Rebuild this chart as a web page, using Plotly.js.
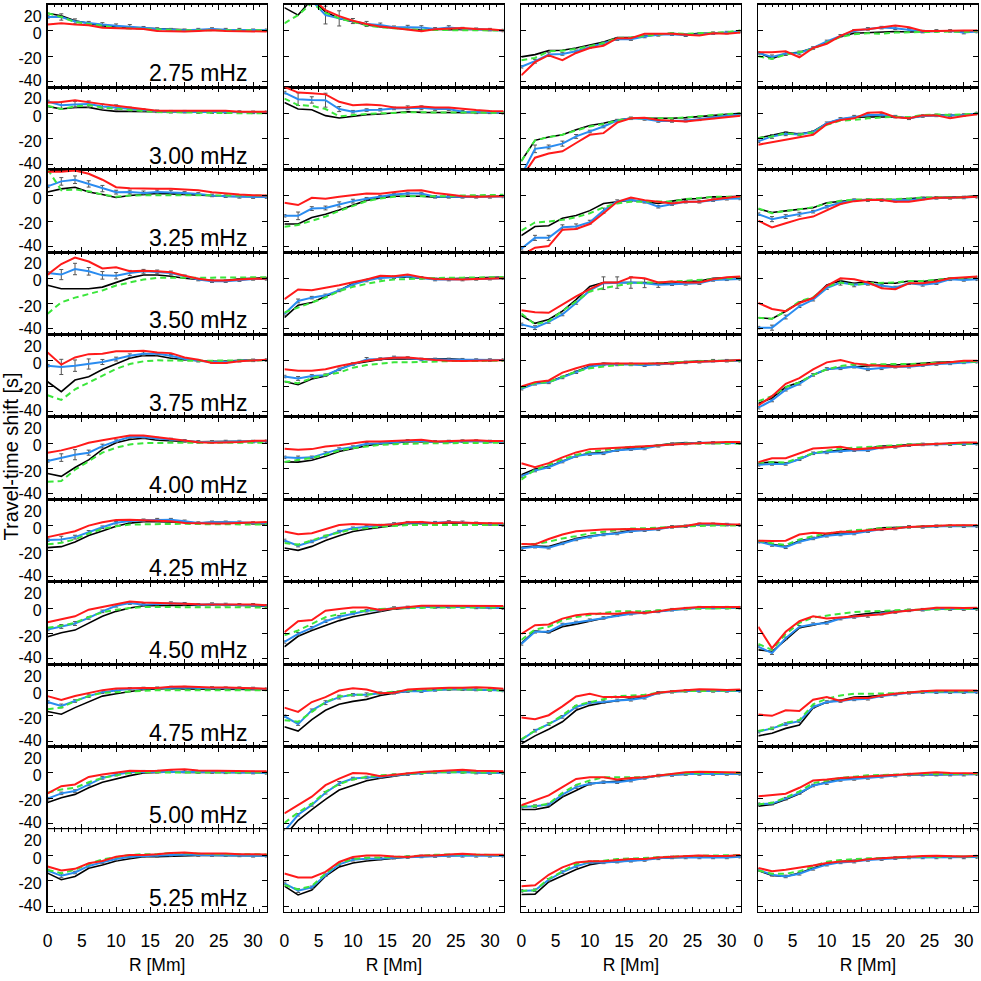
<!DOCTYPE html>
<html><head><meta charset="utf-8">
<script src="https://cdn.plot.ly/plotly-3.0.1.min.js"></script>
<style>html,body{margin:0;padding:0;background:#fff}#chart{width:981px;height:981px}</style>
</head><body><div id="chart"></div>
<script>
const R = [0,2,4,6,8,10,12,14,16,18,20,22,24,26,28,30,32];
const freqLabels = ["2.75 mHz","3.00 mHz","3.25 mHz","3.50 mHz","3.75 mHz","4.00 mHz","4.25 mHz","4.50 mHz","4.75 mHz","5.00 mHz","5.25 mHz"];
const yTickVals = [20,0,-20,-40];
const yTickText = ["20","0","-20","-40"];
const yLabelVals = [11.5,-2,-22,-39.3];
const xTickVals = [0,5,10,15,20,25,30];

// ---------- column 1 ----------
const red1 = [
 [5,6,5,4.5,2.5,2,2,1.5,0,-0.5,-0.5,0,0.5,0,0,0,-0.5],
 [8.6,9,10.4,8.6,7.3,6,4.7,3.4,2,2,2,2,2,2,1.3,1.3,1.3],
 [19,19,20,17.4,12.7,6.8,6,5.5,5.5,5.5,5,4.4,2.9,1.8,1,0.5,0.3],
 [2.9,11.2,16.4,13.2,7.8,8.6,5.5,6,5.5,4.7,2,-0.3,-1.8,-1.8,-1,-0.3,-0.3],
 [6.5,-3.1,2.6,5.2,5.5,7.5,7.5,7.8,6.5,6,2.6,0.8,-1.8,-1.8,-0.5,0,0.8],
 [-7.5,-5.7,-3.1,0.3,2.3,4.4,6,6,4.7,3.4,2.3,0.8,0.3,0.5,1,1.8,2],
 [-9.1,-6.5,-4.4,0,2.6,4.4,4.7,4.2,3.6,3.4,2,1.6,1.6,1.6,2,2.6,2.9],
 [-11.2,-8.6,-6.5,-1.3,0.8,3.4,5.2,4.4,3.9,3.9,3.4,3.1,3.1,3.1,3.1,2.9,2.3],
 [-4.4,-7.5,-4.4,-1.8,0.3,1.6,2,2,2,2.9,3.1,2.6,2.3,2.3,2.3,1.8,1.3],
 [-16.1,-10.4,-9.1,-3.1,-1.3,0,1.8,1.6,1.8,2.6,2.9,2,1.8,1.8,1.6,1.6,1.3],
 [-8.8,-11.9,-10.6,-6.2,-4.4,-1,0.3,0.3,1,2,2.3,1.6,1.6,1.6,1,1,0.8]
];
const black1 = [
 [14,12,8,6,4,3,2.5,2,1.5,1,0.5,0.5,1,0.5,0.5,0.5,0],
 [5.5,3.4,4.7,4.7,2.6,1.6,1.6,1.3,1.3,1.3,1.3,1.3,1.3,1.3,1,1,1],
 [3,5.5,6.8,3,1,-1.3,0.3,1,1.8,1.5,1,0.3,0.3,-0.3,-0.5,-0.5,-0.5],
 [-5.5,-8.3,-8.3,-8.3,-7,-3.1,0.3,2.6,2.6,1.6,0,-1,-1.8,-1.8,-0.5,0,0.5],
 [-16.6,-24.4,-15.3,-12.7,-7,-2.3,2,4.2,3.9,2,0.8,0,-0.5,-0.5,0.3,0.8,0.8],
 [-24,-26.2,-19.2,-13.2,-4.9,0.3,2.9,3.9,2.3,2,1.3,1,1.3,1.3,1.3,1.3,1.5],
 [-17.4,-16.6,-13,-7.8,-4.2,-0.5,2,3.1,3.1,3.1,2.6,2,2.6,2.6,2,1.6,1.3],
 [-22.6,-19.5,-17.4,-11.7,-6.5,-2.6,0,1.8,1.8,1.8,2,2.3,2.8,2.6,2.3,1.8,1.3],
 [-16.6,-18.7,-13.5,-9.1,-4.4,-2.6,-1,0.8,1.3,1.6,1.3,1.3,1.3,1.3,1,0.8,0.8],
 [-23.4,-19.5,-16.9,-11.7,-7.3,-4.4,-2.1,0,0.5,0.8,0.5,0.5,0.5,0.8,0.5,0.3,0.3],
 [-14,-19.2,-16.6,-10.1,-7.5,-4.4,-2.6,-1,-1,-0.5,0,0,0,0,0,-0.3,-0.3]
];
const blue1 = [
 [11,11,7.5,6,5,4,3.5,2.5,1.5,1,0.5,1,1.5,1,1,0.5,0.5],
 [9.4,6.5,7,7.3,5.5,4.7,3.4,2.6,1.6,1.3,1.3,1,1,1,1,0.8,0.8],
 [7.5,11.4,12.7,9.4,5.7,2.9,3,2.3,3,2.9,2.3,1.5,0.3,-0.3,-0.8,-1,-1],
 [4.2,2.9,7.3,5.5,2.3,2,4.2,5.5,5,4.2,1.6,-1,-2.3,-2.3,-1.5,-0.5,-0.5],
 [-3.9,-4.9,-3.9,-2.6,-1,1.3,3.9,5.5,5.5,3.9,1.3,0,-1,-1,0,0.3,0.5],
 [-14,-11.4,-9.1,-7.5,-2.3,1.6,4.9,4.9,3.6,2.9,1.8,1,1,1.3,1.3,1.3,1.5],
 [-11.4,-10.9,-9.1,-4.9,-1.3,2.3,3.6,4.2,4.7,4.7,3.4,2,2.6,2.6,2.6,2,2],
 [-16.9,-14.5,-12.2,-7.8,-2.6,1.8,3.9,2.6,3.4,3.9,3.4,2.6,3.1,2.8,2.6,2.6,1.8],
 [-9.1,-12.2,-8.3,-4.4,-1.3,0.3,1.3,1.6,1.8,2.3,2.3,2,2,1.8,1.8,1.6,1],
 [-20.3,-16.1,-14.3,-9.1,-3.9,-1.3,0.5,1,1,1.3,1.3,0.8,0.8,0.5,0.5,0.3,0],
 [-11.9,-16.1,-13.5,-8.3,-5.5,-2.9,-1,-0.5,-0.3,0.5,0.8,0.3,0.3,0.3,0,-0.3,-0.3]
];
const green1 = [
 [14,11,7,5.5,3.5,2.5,2,1.5,1,0.5,0.5,0.5,0.5,0.5,0.5,0.5,0.5],
 [6,3.4,5.5,6.5,4.5,3.4,2.5,1.8,1,0.8,0.5,0.5,0.3,0.3,0,0,0],
 [21,4.4,5,3.6,1,-0.8,0.3,0.5,0.8,0.5,0.5,0.3,0.3,0.3,0.3,0.3,0.3],
 [-28,-19,-15.3,-12.7,-9.6,-5.7,-3.1,-1,0.3,0.5,0.5,0.5,0.5,0.6,0.7,0.8,0.8],
 [-27.3,-31,-22.6,-17.4,-12.2,-6.5,-2.6,-0.5,0.3,0,0,0,0,0,0,0,0.3],
 [-30.4,-29.9,-21,-14,-7.5,-3.6,-1,0,0.3,0.3,0.3,0.3,0.3,0.3,0.3,0.3,0.3],
 [-14.8,-13.5,-10.9,-6.2,-2.6,-0.5,0.8,1,1.5,1.5,1.5,1.2,1,1,0.8,0.8,0.8],
 [-15.6,-14,-11.7,-7,-3.4,-1.3,0,0.8,0.8,0.8,0.8,0.8,0.8,0.8,0.8,0.8,0.5],
 [-14.8,-13.5,-8.3,-4.4,-1.8,-1.3,-0.5,0.3,0.3,0.3,0.3,0.3,0.3,0.3,0.3,0.3,0.3],
 [-15.6,-13,-11.7,-7.3,-3.9,-1.8,0,0.5,0.5,0.5,0.3,0.3,0.3,0.3,0.3,0.3,0.3],
 [-11.4,-14,-11.4,-6.8,-3.1,-1.5,0.3,1,1,2,1.6,1.2,1,1,0.8,0.8,0.8]
];
const err1 = [
 [1,2.5,2,1.5,1.5,1.5,1.5,1,1,1,1,1,1,1,1,1,1],
 [1,2.5,2.5,2.5,2,2,1.5,1,1,1,1,1,1,1,1,1,1],
 [1,3,3,2.5,2.5,1.5,1.5,1.5,1.5,1.5,1,1,1,1,1,1,1],
 [1,4,4.5,3,3,2.5,2,1.5,1.5,1.5,1,1,1,1,1,1,1],
 [1,6,4.5,4,2,1.5,1.5,1.5,1,1,1,1,1,1,1,1,1],
 [1,3,4,2,1.5,1,1,1,1,1,1,1,1,1,1,1,1],
 [1,2.5,1.5,1,1,1,1,1,1,1,1,1,1,1,1,1,1],
 [1,1.5,1.5,1,1,1,1,1,1,1,1,1,1,1,1,1,1],
 [1,1.5,1,1,1,1,1,1,1,1,1,1,1,1,1,1,1],
 [1,1,1,1,1,1,1,1,1,1,1,1,1,1,1,1,1],
 [1,1.5,1,1,1,1,1,1,1,1,1,1,1,1,1,1,1]
];

// ---------- column 2 ----------
const red2 = [
 [30,30,26,16.4,11.7,8,5.5,3.4,2.3,0.8,-0.3,1.3,2,2.3,1.6,1.3,0.3],
 [21,16.4,15.8,15,9.1,6.5,7,6.5,4.7,4.7,5.5,4.7,4.7,3.4,2.6,1.8,1.6],
 [-5.5,-7.3,-1.6,-2.3,-0.8,0.3,1.8,1.6,2.9,4.2,4.4,2.3,1,-0.3,-0.8,-0.8,-0.3],
 [-16.6,-8.8,-9.4,-7.5,-5.5,-3.1,-1,2,1.6,2.9,0.8,-0.5,-1,-1,-0.5,-0.5,0],
 [-6.8,-8,-8,-6.8,-4.2,-2.1,0,1.3,2.3,2.6,1.3,0.5,0,-0.3,0,0,0.3],
 [-4.4,-5.2,-4.7,-2.6,-1.6,0,1.3,1.3,1.8,2.6,2.6,1.3,1.6,1.8,2.3,1.8,1.8],
 [-4.7,-6.8,-6,-2.6,0.5,1.3,1,0.5,1,2.6,2.9,1.8,2.6,2.6,2.1,1.8,1.8],
 [-19,-10.4,-9.4,-2.1,-0.8,0.5,0.5,-1.6,-0.3,1,1.8,1.8,1.8,1.8,1.6,1.6,1.6],
 [-13.5,-16.9,-9.1,-5.2,0,1.8,0.8,-2.1,-1.8,0.8,1.3,1.8,2.1,2.1,2.6,2.1,1.3],
 [-32,-25.2,-18.7,-9.6,-4.4,0,-0.5,-2.6,-1.3,0,0.8,1.3,2.1,2.6,1.8,1.6,1.3],
 [-14.3,-17.4,-17.4,-13,-5.2,-1.3,0,0,-0.8,-1.3,0,0,0.8,1.3,0.8,0.5,0.5]
];
const black2 = [
 [18.4,12.5,25,15,9.9,7.3,4.7,3.4,2.3,1.3,0.8,1.3,1,1.3,1.3,0.8,0.3],
 [8.6,3.4,2.9,-1.8,-3.6,-2.3,-1,-0.5,0.3,1.3,0.8,0.8,0.8,0.8,0.8,0.5,0.5],
 [-22.3,-22.3,-17.1,-14.5,-11.2,-7.5,-3.6,-1.6,-0.3,-0.3,-0.3,-1,-0.8,-0.8,-0.8,-0.8,-0.3],
 [-31,-21.3,-19.2,-14.5,-9.6,-4.2,-1,0.8,0.8,0.8,0,-0.5,-0.5,0,0.3,0.5,1],
 [-16.4,-19,-14.5,-12,-6.8,-2.6,-0.8,1,1.6,1.3,1.3,1.3,1.6,1,0.8,0.8,0.5],
 [-14.8,-15,-13.5,-10.4,-6.5,-4.2,-2.1,-0.5,0,1.3,1.3,1,1,1.6,1.8,1.3,1],
 [-17.7,-19.5,-16.4,-11.7,-8,-4.7,-2.9,-1.3,0.5,1.8,1.8,1.8,2.3,2.1,1.6,1.3,0.5],
 [-30.6,-22.3,-17.7,-13.8,-9.9,-6.8,-4.7,-2.6,-0.8,0,1,0.5,1,1,0.5,0.5,0],
 [-28.6,-32,-22.9,-15.6,-10.9,-8.6,-7,-3.9,-2.1,-0.5,0,0.8,1,1,0.8,0.5,0],
 [-50,-37.4,-29,-20.8,-13.5,-9.6,-6.2,-4.2,-2.3,-1,0,0.5,0.8,0.8,0.3,0,0],
 [-24.2,-31.2,-27.3,-16.4,-9.1,-6,-4.4,-3.4,-2.1,-1.3,-0.8,-0.5,0,0.3,0.3,0,0]
];
const blue2 = [
 [26,28,24,12.5,9.9,7.8,5.5,4.7,2.9,2.9,2.6,1.6,2.6,1.8,1.3,1,0.3],
 [16.4,11.2,10.6,10.4,3.4,1.3,2.6,2.9,3.9,4.4,4.4,3.4,3.4,1.3,0.8,0.8,0.5],
 [-15.8,-15.8,-10.1,-9.6,-6.8,-4.2,-2.3,-0.8,1,1.8,1.8,-0.8,-0.8,-0.8,-0.8,-0.8,-0.5],
 [-28.3,-17.9,-15.3,-13.5,-9.6,-4.9,-1.8,0.3,0.8,1.6,0.3,-1,-1,-1,-0.5,-0.3,0],
 [-12.5,-14,-12,-11.4,-6.8,-2.6,1,1.3,2.6,2.1,1,1,1,0.8,0.5,0.5,0.5],
 [-11.2,-11.7,-11.2,-7.8,-4.7,-3.1,-0.5,0,0.5,1.8,1.8,1,1.3,1.6,1.6,1.3,1],
 [-11.7,-15.8,-12.5,-8.6,-4.7,-2.1,-0.8,0,1.3,2.3,2.3,2.3,2.9,2.6,1.8,1.3,0.5],
 [-26.8,-20.3,-15.6,-10.4,-6.8,-4.2,-2.1,-1.6,0,0.5,1,1,1,1,0.5,0.5,0],
 [-20.3,-26.5,-15.6,-9.6,-5.2,-3.4,-3.4,-2.1,-1.8,-0.5,-0.5,0.5,1,1,0.8,0.5,0],
 [-46,-33,-25.2,-15.6,-8.3,-4.4,-3.6,-3.1,-1.8,-1,0,0.5,0.8,0.8,0.3,0,0],
 [-22,-27.8,-25.2,-15.6,-7,-3.4,-2.6,-2.6,-1.8,-1.3,-0.8,-0.5,-0.3,-0.3,-0.3,-0.3,-0.3]
];
const green2 = [
 [6,12.5,22,14.3,9.9,7.3,4.4,2.9,2,1.3,0.8,0.8,0.8,0.8,0.8,0.5,0.3],
 [11.7,6.5,6,3.4,-2.3,-1.3,-0.5,0,0.5,0.8,0.8,0.8,0.8,0.8,0.8,0.5,0.5],
 [-24.4,-23,-19.7,-16.4,-11.9,-8,-4.2,-2.1,-0.8,-0.3,-0.3,-0.3,-0.3,0.3,0.3,0.3,0.8],
 [-27,-23.1,-19.7,-15.3,-10.1,-6.8,-4.4,-2.3,-1,-0.5,0,0,0.5,0.5,0.5,0.8,1],
 [-16.4,-17.7,-13.8,-11.2,-9.4,-5.5,-3.4,-2.1,-1.3,-1.3,-0.8,-0.3,-0.3,-0.3,-0.3,-0.3,0],
 [-14.8,-13.5,-11.7,-9.1,-5.7,-3.9,-2.6,-1.3,-0.8,-0.5,0,0,0,0,0,0,0.3],
 [-13.8,-15,-11.7,-8,-5.5,-2.9,-2.1,-0.8,-0.3,0.5,0.5,0.5,0.5,0.5,0.5,0.5,0.5],
 [-21.6,-17.7,-12.5,-7.3,-4.7,-2.9,-2.1,-0.8,-0.3,0,0.5,0.5,0.5,0.5,0.5,0.5,0.5],
 [-23.4,-24.7,-16.9,-9.1,-4.7,-3.4,-3.4,-1.8,-0.8,0,0,0.5,1,1,0.8,0.5,0],
 [-39.5,-31.2,-24.4,-14.8,-8.8,-5.2,-3.1,-1.8,-1.3,-0.5,0,0.5,0.5,0.5,0.3,0.3,0.3],
 [-23.4,-26.8,-24.2,-14.3,-6,-2.9,-1.8,-1.8,-1.3,-0.8,0,0.5,0.8,0.8,0.5,0.3,0.3]
];
const err2 = [
 [1,1,1,7,6,2,2,1.5,1,1.5,1.5,1,1.5,1,1,1,1],
 [1,5,2.5,5.5,2,1,1,1,1,1.5,1.5,1,1,1,1,1,1],
 [1,3,1.5,1.5,2,1.5,1,1,1,1,1,1,1,1,1,1,1],
 [1,1.5,1,1,1,1,1,1,1,1,1,1,1,1,1,1,1],
 [1,1.5,1,1,1,1,1.5,1,1,1,1,1,1,1,1,1,1],
 [1,1.5,1,1,1,1,1,1,1,1,1,1,1,1,1,1,1],
 [1,1,1,1,1,1,1,1,1,1,1,1,1,1,1,1,1],
 [1,1,1,1,1,1,1,1,1,1,1,1,1,1,1,1,1],
 [1,1,1,1.5,1.5,1,1.5,1,1,1,1,1,1,1,1,1,1],
 [1,1,1,1,1.5,1,1,1,1,1,1,1,1,1,1,1,1],
 [1,1.5,1,1,1,1,1,1,1,1,1,1,1,1,1,1,1]
];

// ---------- column 3 ----------
const red3 = [
 [-35,-24.7,-19.2,-23.1,-17.4,-13.5,-11.7,-5.7,-5.7,-2.3,-2.3,-2.3,-3.1,-3.6,-1.8,-2.3,-1.3],
 [-51,-35,-31.7,-29.9,-23.4,-16.9,-15.6,-7.3,-3.9,-3.4,-5.2,-5.7,-6.5,-5.2,-3.9,-2.6,-1.8],
 [-47,-41,-39.7,-26.8,-26.2,-22.3,-13.8,-4.7,-1.3,-3.4,-4.7,-6,-4.7,-4.7,-2.9,-1.6,-0.3],
 [-25.2,-26.8,-27.3,-20.8,-14.3,-8.6,-3.4,-3.4,0.8,0,-3.4,-2.6,-3.4,-3.4,-0.8,0.8,1.3],
 [-20.3,-16.9,-15.6,-9.4,-6,-2.9,-2.1,-2.1,-2.1,-2.1,-2.6,-2.1,-1.3,-1,-0.3,0,0.5],
 [-15.8,-19,-15.8,-11.2,-7.3,-4.7,-4.2,-3.6,-3.4,-2.9,-1.8,-1,-0.3,0.3,0.5,1,1],
 [-14.5,-14.8,-10.6,-7,-4.4,-3.6,-3.1,-2.9,-2.6,-2.9,-2.3,-1,-0.3,1.6,1.6,1,0.8],
 [-20.5,-13.5,-13,-8.3,-5.7,-4.4,-4.4,-4.4,-3.4,-3.9,-2.6,-1,0,0.8,0.8,0.8,0.8],
 [-21.3,-22.6,-19.5,-12.5,-4.7,-2.6,-5.2,-5.2,-5.2,-4.4,-1.8,-0.5,0.5,1,0.8,0.5,0.8],
 [-25.5,-21.6,-17.7,-11.2,-4.7,-3.4,-3.4,-5.2,-3.9,-3.4,-2.1,-0.8,0.5,1,0.5,0.5,0.3],
 [-24.4,-23.6,-15.3,-9.4,-5.5,-4.7,-4.7,-3.6,-2.9,-2.9,-1.6,-1,-0.5,0,-0.5,-0.5,0.3]
];
const black3 = [
 [-20.5,-18.7,-15.6,-15.3,-13.5,-10.9,-8.8,-5.2,-5.2,-3.9,-2.9,-1.8,-2.9,-1.8,-1.8,-1.3,0],
 [-37.7,-21.3,-18.7,-16.9,-13,-9.6,-7.8,-5.2,-3.9,-3.9,-4.4,-3.9,-3.4,-2.6,-1.6,-0.8,0],
 [-31.4,-24.2,-23.6,-17.7,-15.6,-11.7,-6,-4.7,-3.4,-4.7,-6,-4.2,-2.6,-2.1,-0.8,-0.8,-0.3],
 [-29.4,-35.6,-32.5,-26,-16.9,-6.5,-3.4,-3.4,-3.4,-3.4,-4.4,-3.9,-2.6,-2.1,0,0.5,0.8],
 [-21,-17.7,-16.9,-13,-8.6,-4.2,-2.1,-2.6,-2.9,-2.9,-2.1,-1.3,-0.8,-0.3,0,0,0.3],
 [-24.9,-20.5,-18.4,-14.5,-10.1,-8,-7.5,-5.5,-4.2,-3.4,-1.6,-0.3,0.3,0.3,0.3,0.3,0],
 [-17.1,-16.1,-16.6,-13.5,-10.1,-8.3,-6.8,-5.7,-3.6,-3.1,-2.3,-1,-0.3,1,1,0.8,0.3],
 [-27.8,-17.9,-19.5,-14.8,-12.7,-10.4,-8.3,-5.7,-4.4,-3.6,-2.6,-1.3,-0.5,0.3,0.3,0.3,0.3],
 [-42,-35.8,-30.6,-24.7,-15.6,-11.7,-9.6,-7.8,-6.5,-5.2,-1.8,-0.8,-0.3,-0.3,-0.3,-0.3,-0.3],
 [-28.8,-28.8,-26.8,-19,-13.8,-8.6,-7.3,-6.5,-5.5,-3.9,-2.1,-1.3,-0.8,-0.8,-0.8,-0.8,-0.8],
 [-30.9,-30.6,-21,-15.8,-11.2,-7.3,-5.5,-4.9,-4.2,-3.4,-2.1,-1.6,-1,-1,-1,-1,-0.5]
];
const blue3 = [
 [-28.3,-23.9,-18.7,-18.2,-16.1,-12.7,-9.6,-6.5,-6.5,-4.4,-3.1,-2.6,-3.4,-2.6,-1.8,-1.3,-0.5],
 [-49,-28,-26.5,-23.9,-18.2,-14.3,-10.4,-5.7,-3.9,-4.4,-6,-6,-5.7,-4.7,-3.1,-1.6,-0.8],
 [-41.8,-33.2,-33.2,-24.9,-24.2,-20.8,-11.7,-4.2,-3.4,-4.7,-8.6,-6.5,-4.7,-4.7,-3.4,-2.3,-2.1],
 [-36.4,-39,-34.5,-28.6,-19.5,-9.6,-3.9,-3.4,-3.4,-3.9,-5.2,-4.7,-4.4,-3.9,-1.3,-0.8,-0.5],
 [-22.1,-18.2,-17.1,-13.2,-9.1,-4.7,-2.9,-2.9,-2.9,-3.6,-2.6,-2.1,-1.3,-0.8,0,0,0],
 [-26.2,-21.6,-19,-14.5,-10.1,-8.6,-8,-5.5,-4.7,-4.2,-2.1,-0.8,-0.3,0.3,0.3,0.3,0],
 [-17.9,-16.6,-17.4,-14,-10.9,-8.8,-7,-6.2,-4.4,-3.6,-2.9,-1,-0.5,1,1,0.8,0.3],
 [-28.3,-18.7,-18.7,-13,-11.4,-9.6,-7.8,-5.7,-4.4,-3.6,-2.6,-1.3,-0.5,0.3,0.3,0.3,0.3],
 [-39,-31.7,-26.5,-20.8,-13,-9.6,-9.1,-7.8,-7.3,-5.7,-1.8,-1,-0.3,-0.3,-0.3,-0.3,-0.3],
 [-26.8,-26.2,-24.9,-17.1,-11.2,-8.6,-7.3,-7.3,-6,-3.9,-2.1,-1.6,-0.8,-0.8,-0.8,-0.8,-0.8],
 [-28,-27.5,-19.2,-13.2,-8.6,-5.5,-5.5,-4.9,-4.2,-3.6,-2.3,-1.6,-1.6,-1.6,-1.6,-1.6,-1]
];
const green3 = [
 [-23.1,-21.3,-16.1,-15.6,-14.3,-11.7,-9.6,-5.7,-5.2,-3.9,-2.9,-1.8,-2.3,-1.8,-1.3,-1,0.3],
 [-37.7,-21.3,-18.7,-16.9,-13.5,-10.4,-8.3,-5.7,-3.9,-3.9,-4.4,-3.9,-3.1,-2.1,-1.3,-0.5,0],
 [-27.5,-21,-20.3,-19,-16.9,-13.8,-9.1,-6,-4.7,-4.7,-4.9,-4.4,-2.6,-1.8,-0.8,-0.8,-0.8],
 [-27.8,-36.4,-33.8,-26,-17.7,-10.4,-7.8,-6,-3.9,-3.4,-3.4,-2.6,-1.8,-1.3,-0.5,0,0],
 [-21.3,-17.7,-16.9,-13,-8.6,-6,-4.7,-3.4,-2.9,-2.6,-2.1,-1.3,-0.8,-0.5,0,0,0],
 [-28.8,-21,-17.1,-12.7,-9.4,-6.8,-5.5,-4.2,-2.9,-2.9,-1.6,-0.8,-0.3,-0.3,-0.3,-0.3,-0.3],
 [-14.5,-14.5,-12.7,-10.1,-8.3,-6.2,-4.9,-3.6,-2.3,-2.1,-1.8,-1,-0.5,0,0,0,0],
 [-25.2,-16.9,-14.8,-9.6,-7,-5.2,-3.9,-2.6,-2.6,-2.6,-1.8,-1,-0.5,-0.5,-0.3,-0.3,0],
 [-38.4,-31.7,-26.5,-19.5,-11.7,-9.1,-6.5,-4.4,-3.9,-3.4,-1.8,-0.8,-0.5,-0.3,0,0,0],
 [-26.2,-26.2,-24.2,-15.8,-9.4,-6,-3.4,-3.4,-2.9,-3.4,-2.1,-0.8,-0.3,0,0,0,0],
 [-28,-27.5,-18.4,-12.5,-6.8,-4.7,-4.2,-2.9,-2.3,-2.1,-1.6,-1,-0.5,-0.3,-0.3,0,0.3]
];
const err3 = [
 [1,1.5,1.5,1,1,1,1,1,1,1,1,1,1,1,1,1,1],
 [1,3,1.5,2,1.5,1,1,1,1,1,1,1,1,1,1,1,1],
 [1,2,2,2,2,1.5,2,1,1,1,1,1,1,1,1,1,1],
 [1,1.5,1,1,1,1,5,4.5,4.5,3.5,2,1,1,1,1,1,1],
 [1,1,1,1,1,1,1,1,1,1,1,1,1,1,1,1,1],
 [1,1,1,1,1,1,1,1,1,1,1,1,1,1,1,1,1],
 [1,1,1,1,1,1,1,1,1,1,1,1,1,1,1,1,1],
 [1,1,1,1,1,1,1,1,1,1,1,1,1,1,1,1,1],
 [1,1,1,1,1,1,1,1,1,1,1,1,1,1,1,1,1],
 [1,1,1,1,1,1,1,1,1,1,1,1,1,1,1,1,1],
 [1,1,1,1,1,1,1,1,1,1,1,1,1,1,1,1,1]
];

// ---------- column 4 ----------
const red4 = [
 [-16.9,-16.9,-16.1,-20.8,-13.5,-10.1,-3.9,0.8,1.3,2.9,4.2,2.9,0,0,0.3,0.3,0.3],
 [-24.7,-22.9,-20.8,-18.7,-16.9,-8.6,-5.2,-3.9,0.5,0.8,-3.1,-3.9,-1.6,-1.6,-3.9,-2.1,-0.8],
 [-19.7,-24.9,-21.6,-18.4,-16.4,-11.7,-6.5,-4.2,-3.4,-3.4,-4.7,-4.7,-2.9,-1.6,-1.6,-1.3,-0.8],
 [-19.5,-24.2,-26,-19.5,-15.6,-6,0,-0.8,-3.4,-7.8,-8.6,-3.9,-3.9,-2.6,0,0.5,1.3],
 [-35.3,-28,-18.2,-13.8,-6.8,-1.3,0.5,-2.1,-3.4,-3.9,-4.7,-4.2,-2.9,-2.1,-1.3,0,0],
 [-15,-11.9,-11.9,-8,-4.2,-3.6,-2.9,-4.9,-4.2,-3.4,-2.9,-1.6,-1,-0.8,-0.3,0.5,0.5],
 [-11.9,-12.2,-11.9,-7,-5.7,-6.2,-4.9,-4.9,-3.6,-2.9,-2.3,-1,-0.5,-0.3,0.3,0.3,0.3],
 [-14.8,-31.7,-18.7,-10.4,-6.5,-8.3,-7.5,-6.5,-5.7,-4.9,-3.1,-1.8,-0.5,0.3,0.3,0,0.3],
 [-19,-20,-15.6,-16.1,-7.3,-5.2,-8.3,-6,-6,-3.9,-2.6,-1.3,-0.5,0,0,0,0],
 [-18.4,-17.7,-16.4,-11.7,-6,-5.2,-3.9,-3.4,-2.9,-2.1,-1.6,-0.8,-0.3,0.5,0,-0.3,-0.3],
 [-9.9,-12.5,-11.4,-9.9,-8,-6,-4.9,-4.7,-3.1,-2.3,-1.6,-1,-0.5,-0.3,-0.8,-0.8,-0.3]
];
const black4 = [
 [-16.9,-21.8,-17.9,-16.9,-13.5,-9.1,-4.4,-1.8,-1.3,-0.8,-0.5,-0.8,-0.5,0,0,-0.5,0],
 [-19.5,-17.4,-15,-16.4,-14.3,-7.8,-4.7,-3.1,-3.1,-2.6,-2.6,-3.9,-2.1,-1.3,-1.6,-1.3,0],
 [-10.4,-13.2,-11.9,-10.6,-9.4,-5.5,-4.2,-3.4,-2.9,-2.9,-2.9,-2.3,-1.3,-1.3,-1.3,-0.8,0],
 [-31.2,-32,-26,-19,-15.6,-5.2,-2.1,-3.9,-2.6,-3.9,-3.9,-2.1,-2.6,-1.3,0,0,1.3],
 [-33.8,-29.4,-20.8,-17.1,-11.2,-6.8,-5.5,-4.7,-4.2,-3.4,-3.4,-2.9,-2.1,-1.3,-1,-0.3,-0.3],
 [-15.8,-15,-15.8,-12.7,-8,-6.8,-5.5,-4.9,-4.2,-2.3,-2.1,-1,-0.8,-0.8,-0.3,-0.3,-0.3],
 [-12.2,-14.8,-16.6,-11.9,-10.1,-6.8,-6.2,-5.7,-3.6,-1.8,-1.6,-1,-0.5,-0.3,-0.3,-0.3,-0.3],
 [-33,-34.3,-25.2,-15.6,-13.5,-10.9,-7.8,-5.7,-4.4,-3.1,-2.6,-1.8,-1.3,-0.5,-0.8,-0.8,-0.5],
 [-35.8,-33.8,-29.9,-27.3,-13.8,-9.1,-7.8,-5.2,-4.7,-3.4,-2.6,-1.8,-1.3,-1,-1,-1,-1],
 [-26.2,-24.9,-21,-16.4,-9.9,-7.3,-4.7,-3.9,-2.9,-2.1,-1.6,-1.3,-1.3,-1.3,-1.3,-1.3,-1],
 [-11.9,-15.8,-16.6,-14,-9.9,-6.8,-4.9,-4.2,-3.1,-2.1,-1.6,-1.3,-1,-1,-1,-1,-0.8]
];
const blue4 = [
 [-17.4,-20.5,-17.9,-17.4,-13.5,-8.3,-3.9,0,1.6,2.6,2.1,0.8,-0.5,0,0,-1.3,-0.5],
 [-22.1,-18.2,-16.1,-16.6,-14.8,-7.8,-4.4,-2.6,-1.3,-1.3,-2.6,-3.9,-2.1,-1.6,-1.6,-1.3,0],
 [-14.5,-18.4,-16.4,-14.5,-12.5,-8.6,-5.5,-3.4,-3.4,-3.4,-3.9,-3.4,-2.1,-1.6,-1.6,-1.3,-0.8],
 [-39,-39,-30.6,-22.1,-16.9,-7.8,-3.4,-5.2,-4.4,-6,-7.3,-3.9,-5.2,-3.9,-0.8,-1.3,-0.8],
 [-37.1,-31.4,-22.9,-18.2,-11.2,-6.5,-6,-4.7,-6.8,-6,-4.7,-4.7,-3.4,-2.6,-2.1,-1.3,-0.8],
 [-17.1,-16.4,-16.4,-12.7,-8,-7.3,-6.2,-5.5,-5.5,-3.4,-2.9,-1.6,-1,-1,-0.8,-0.8,-0.5],
 [-12.7,-15.3,-17.1,-12.7,-10.1,-8,-7,-6.2,-4.4,-2.9,-2.3,-1,-1,-0.5,-0.3,-0.5,-0.5],
 [-30.4,-35.6,-23.9,-14.8,-12.7,-11.7,-8.3,-7,-6.2,-4.4,-3.1,-1.8,-1.3,-0.5,-0.8,-0.8,-0.8],
 [-32.5,-29.9,-26.5,-24.2,-13,-9.1,-8.3,-7,-6.5,-4.4,-3.1,-1.8,-1.3,-1.3,-1.3,-1.3,-1.3],
 [-24.7,-24.2,-20.3,-15.8,-9.9,-8,-5.5,-4.7,-3.9,-2.9,-2.1,-1.3,-1.3,-1.3,-1.3,-1.3,-1],
 [-11.4,-15.3,-16.6,-14.5,-10.6,-7.3,-5.5,-4.9,-3.6,-2.9,-2.1,-1.6,-1.6,-1.6,-1.6,-1.6,-1.3]
];
const green4 = [
 [-20,-22.1,-18.7,-16.9,-14.3,-9.1,-4.9,-2.6,-1.8,-2.3,-1.3,-1,-0.8,-0.5,-0.5,-0.8,-0.3],
 [-19.5,-18.2,-15.6,-16.9,-15,-9.1,-5.7,-5.2,-3.9,-3.1,-2.6,-3.1,-1.3,-0.8,-1.3,-0.8,0],
 [-9.9,-13.8,-11.9,-10.6,-9.1,-6,-3.9,-2.9,-2.9,-2.9,-2.6,-2.1,-1.3,-1.3,-1.3,-1.3,-0.3],
 [-31.2,-32,-26,-18.2,-15,-6.5,-3.4,-5.2,-3.9,-3.9,-3.4,-2.1,-2.1,-1.3,0,0,1.3],
 [-31.9,-28,-20.8,-17.1,-11.2,-6.8,-4.2,-2.9,-2.9,-2.6,-2.6,-2.6,-2.1,-1.6,-1,-0.8,-0.8],
 [-15.3,-15,-15.3,-11.9,-8,-6,-4.2,-3.6,-2.9,-2.3,-1.8,-1,-0.8,-0.8,-0.3,-0.3,-0.3],
 [-11.9,-14,-15.3,-10.9,-8.3,-6.2,-4.9,-3.6,-3.1,-1.8,-1.6,-1,-0.5,-0.3,0,0,0],
 [-28.3,-33,-20.5,-11.7,-7.5,-5.7,-4.4,-3.1,-2.6,-1.8,-1.8,-1.3,-1.3,-0.8,-0.8,-0.8,-0.5],
 [-31.9,-29.9,-25.5,-23.4,-10.9,-6.5,-3.9,-2.6,-2.6,-2.6,-2.1,-1.3,-0.8,-0.8,-0.8,-0.8,-0.8],
 [-24.7,-23.6,-19.5,-14.5,-8,-6,-3.9,-2.9,-1.8,-1.6,-1.3,-0.8,-0.8,-0.8,-0.8,-0.8,-0.8],
 [-11.9,-14.5,-14.5,-12.5,-8.8,-4.9,-3.6,-2.9,-2.3,-2.1,-1.6,-1,-1,-1,-1,-1,-0.8]
];
const err4 = [
 [1,1.5,1.5,1.5,1,1,1,1,1,1,1,1,1,1,1,1,1],
 [1,1.5,1.5,1,1,1,1,1,1.5,1,1,1,1,1,1,1,1],
 [1,2,1.5,1.5,1,1,1,1,1,1,1,1,1,1,1,1,1],
 [1,2,1.5,1,1,1,2,1.5,1,1,1,1,1,1,1,1,1],
 [1,1,1,1,1,1,1,1,1,1,1,1,1,1,1,1,1],
 [1,1,1,1,1,1,1,1,1,1,1,1,1,1,1,1,1],
 [1,1,1,1,1,1,1,1,1,1,1,1,1,1,1,1,1],
 [1,1,1,1,1,1,1,1,1,1,1,1,1,1,1,1,1],
 [1,1,1,1,1,1,1,1,1,1,1,1,1,1,1,1,1],
 [1,1,1,1,1,1,1,1,1,1,1,1,1,1,1,1,1],
 [1,1,1,1,1,1,1,1,1,1,1,1,1,1,1,1,1]
];

// ---------- build figure ----------
const columns = [
  {red: red1, black: black1, blue: blue1, green: green1, err: err1},
  {red: red2, black: black2, blue: blue2, green: green2, err: err2},
  {red: red3, black: black3, blue: blue3, green: green3, err: err3},
  {red: red4, black: black4, blue: blue4, green: green4, err: err4}
];
const W = 981, H = 981;
const colLeft = [47.6, 284.4, 521.3, 758.3], colW = 219.2;
const rowTop0 = 4.7, rowH = 82.45, nRows = 11;
const yRange = [-44.4, 20.7];
const FONT = "Liberation Sans, Arial, Helvetica, sans-serif";
const C = {red: "#ff1a1a", black: "#000000", blue: "#2a8cf0", green: "#3be63b"};

const traces = [];
const layout = {
  width: W, height: H, margin: {l:0, r:0, t:0, b:0},
  paper_bgcolor: "#fff", plot_bgcolor: "#fff", showlegend: false,
  font: {family: FONT, color: "#000"}, annotations: []
};

for (let r = 0; r < nRows; r++) {
  for (let c = 0; c < 4; c++) {
    const k = r*4 + c + 1;
    const xa = k === 1 ? "x" : "x" + k;
    const ya = k === 1 ? "y" : "y" + k;
    const col = columns[c];
    const base = {x: R, xaxis: xa, yaxis: ya, mode: "lines", hoverinfo: "skip", showlegend: false};
    traces.push(Object.assign({}, base, {y: col.black[r], line: {color: C.black, width: 1.6}}));
    traces.push(Object.assign({}, base, {y: col.blue[r], line: {color: C.blue, width: 2},
      error_y: {type: "data", array: col.err[r], visible: true, color: "#555", thickness: 1, width: 2}}));
    traces.push(Object.assign({}, base, {y: col.green[r], line: {color: C.green, width: 2, dash: "6px,4px"}}));
    traces.push(Object.assign({}, base, {y: col.red[r], line: {color: C.red, width: 2}}));

    const top = rowTop0 + r*rowH;
    const isBottom = r === nRows - 1;
    layout["xaxis" + (k === 1 ? "" : k)] = {
      domain: [colLeft[c]/W, (colLeft[c]+colW)/W], range: [0, 32], anchor: ya,
      showline: true, linecolor: "#000", linewidth: 1.5, mirror: "ticks",
      ticks: "inside", ticklen: 5, tickwidth: 1, tickcolor: "#000",
      tickvals: xTickVals, showticklabels: isBottom,
      tickfont: {size: 17.5, family: FONT, color: "#000"}, ticklabelstandoff: 13,
      minor: {dtick: 1, tick0: 0, ticks: "inside", ticklen: 2.5, tickcolor: "#000", tickwidth: 1, showgrid: false},
      showgrid: false, zeroline: false, automargin: false, fixedrange: true,
      title: isBottom ? {text: "R [Mm]", font: {size: 17.5, family: FONT, color: "#000"}, standoff: 8} : {text: ""}
    };
    layout["yaxis" + (k === 1 ? "" : k)] = {
      domain: [1 - (top + rowH)/H, 1 - top/H], range: yRange, anchor: xa,
      showline: true, linecolor: "#000", linewidth: 1.5, mirror: "ticks",
      ticks: "inside", ticklen: 5, tickwidth: 1, tickcolor: "#000",
      tickvals: yTickVals, showticklabels: false,
      showgrid: false, zeroline: false, automargin: false, fixedrange: true
    };

    if (c === 0) {
      // label-only axis for the y tick numbers
      const lk = 45 + r;
      layout["yaxis" + lk] = {
        overlaying: ya, anchor: xa, side: "left", range: yRange,
        tickvals: yLabelVals, ticktext: yTickText, ticks: "", showline: false,
        showgrid: false, zeroline: false, ticklabelstandoff: 5,
        tickfont: {size: 16, family: FONT, color: "#000"}, automargin: false, fixedrange: true
      };
      traces.push({x: [null], y: [null], xaxis: xa, yaxis: "y" + lk, mode: "lines", hoverinfo: "skip", showlegend: false});
      layout.annotations.push({
        text: freqLabels[r], xref: xa + " domain", yref: ya + " domain",
        x: 0.92, y: 0.17, xanchor: "right", yanchor: "middle", showarrow: false,
        font: {size: 23, family: FONT, color: "#000"}
      });
    }
  }
}

layout.annotations.push({
  text: "Travel-time shift [s]", xref: "paper", yref: "paper",
  x: 10/W, y: 1 - 456.5/H, xanchor: "center", yanchor: "middle",
  textangle: -90, showarrow: false, font: {size: 20, family: FONT, color: "#000"}
});

Plotly.newPlot("chart", traces, layout, {staticPlot: true, displayModeBar: false});
</script>
</body></html>
